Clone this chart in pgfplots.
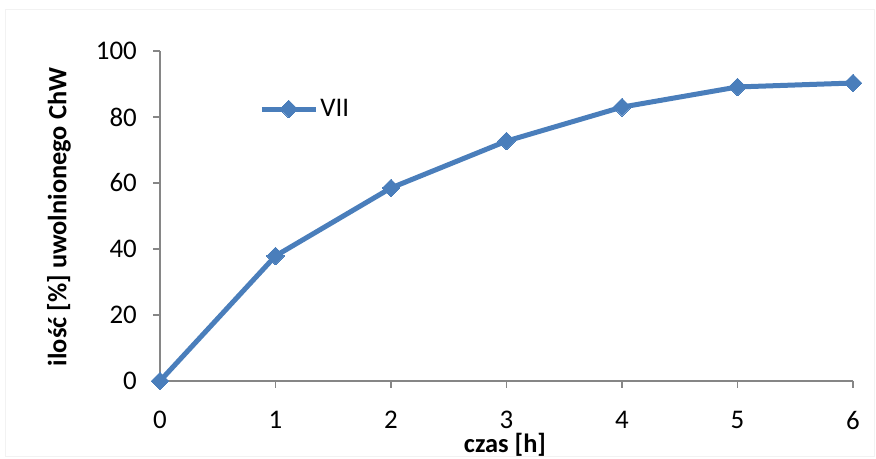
\documentclass[border=0pt]{standalone}
\usepackage{pgfplots}
\pgfplotsset{compat=1.18}
\usepackage{fontspec}
\setmainfont{Carlito}
\definecolor{serie}{HTML}{4A7EBB}
\definecolor{axgray}{HTML}{868686}
\definecolor{frame}{HTML}{F2F2F2}

\begin{document}
\begin{tikzpicture}
% page area and a faint chart frame
\path[use as bounding box] (0bp,0bp) rectangle (876bp,459bp);
\draw[frame, line width=1bp] (5bp,2bp) rectangle (874bp,449bp);

\begin{axis}[
  at={(160bp,78bp)}, anchor=south west,
  scale only axis, width=693bp, height=330bp,
  xmin=0, xmax=6, ymin=0, ymax=100,
  xtick={0,1,...,6}, ytick={0,20,...,100},
  axis x line*=bottom, axis y line*=left,
  axis line style={axgray, line width=1.3bp},
  tick style={axgray, line width=1.3bp},
  tick align=outside, major tick length=7bp,
  tick label style={font=\fontsize{27}{27}\selectfont, inner sep=0pt},
  /pgf/number format/assume math mode=true,
  xticklabel style={anchor=north, yshift=-23bp},
  yticklabel style={anchor=east, xshift=-16bp},
  clip=false,
  legend style={draw=none, fill=none, inner sep=0pt,
    at={(rel axis cs:0.143,0.824)}, anchor=west,
    font=\fontsize{27}{27}\selectfont},
  legend image code/.code={%
    \draw[#1, mark repeat=2, mark phase=2]
      plot coordinates {(0bp,0bp) (27bp,0bp) (54bp,0bp)};},
]
\addplot[serie, line width=5bp, mark=square*,
  mark size=6.3bp, mark options={rotate=45, line width=0pt, fill=serie}]
  coordinates {(0,0) (1,37.9) (2,58.5) (3,72.7) (4,83.0) (5,89.1) (6,90.3)};
\addlegendentry{VII}
\end{axis}

\node[inner sep=0pt, font=\bfseries\fontsize{26.5}{26.5}\selectfont] at (505bp,14bp) {czas [h]};
\node[font=\bfseries\fontsize{26.5}{26.5}\selectfont, rotate=90] at (59bp,242bp)
  {ilość [\%] uwolnionego ChW};
\end{tikzpicture}
\end{document}
